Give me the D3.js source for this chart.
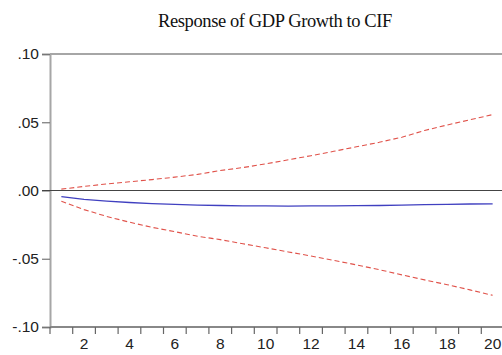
<!DOCTYPE html>
<html>
<head>
<meta charset="utf-8">
<script src="https://cdn.jsdelivr.net/npm/d3@7"></script>
<style>
  html, body { margin: 0; padding: 0; background: #fff; }
  svg { display: block; }
</style>
</head>
<body>
<svg id="chart" width="502" height="355"></svg>
<script>
// Impulse response of GDP growth to a CIF shock, with ±2 S.E. bands
const periods = d3.range(1, 21);
const response = [-0.0045, -0.0065, -0.0078, -0.0088, -0.0096, -0.0102, -0.0107, -0.0110, -0.0112, -0.0113,
                  -0.0114, -0.0113, -0.0112, -0.0111, -0.0110, -0.0107, -0.0104, -0.0101, -0.0099, -0.0098];
const upperBand = [0.0010, 0.0030, 0.0048, 0.0064, 0.0080, 0.0098, 0.0118, 0.0146, 0.0168, 0.0195,
                   0.0225, 0.0255, 0.0287, 0.0320, 0.0353, 0.0390, 0.0440, 0.0480, 0.0518, 0.0556];
const lowerBand = [-0.0078, -0.0140, -0.0190, -0.0232, -0.0270, -0.0302, -0.0335, -0.0360, -0.0390, -0.0420,
                   -0.0450, -0.0480, -0.0512, -0.0545, -0.0580, -0.0618, -0.0655, -0.0690, -0.0728, -0.0768];
const yTicks = [0.10, 0.05, 0.00, -0.05, -0.10];
const xLabels = [2, 4, 6, 8, 10, 12, 14, 16, 18, 20];
const title = "Response of GDP Growth to CIF";

const svg = d3.select("#chart");
const plot = { left: 50, right: 504, top: 54, bottom: 327 };

const x = d3.scaleLinear().domain([0.5, 20.5]).range([plot.left, plot.right]);
const y = d3.scaleLinear().domain([-0.10, 0.10]).range([plot.bottom, plot.top]);

// EViews-style labels: no leading zero, plain hyphen for negatives
const fmt = v => {
  if (Math.abs(v) < 1e-9) return ".00";
  return d3.format(".2f")(v).replace("\u2212", "-").replace("0.", ".");
};

// title
svg.append("text")
  .attr("x", 275).attr("y", 27)
  .attr("text-anchor", "middle")
  .attr("font-family", "Liberation Serif, Times New Roman, serif")
  .attr("font-size", 18.5)
  .attr("letter-spacing", -0.4)
  .attr("fill", "#111")
  .text(title);

// top frame line
svg.append("line")
  .attr("x1", plot.left).attr("x2", 502)
  .attr("y1", y(0.10)).attr("y2", y(0.10))
  .attr("stroke", "#a6a6a6").attr("stroke-width", 2);

// left axis
const yAxis = d3.axisLeft(y).tickValues(yTicks).tickFormat(fmt).tickSize(8).tickPadding(3);
const gy = svg.append("g").attr("transform", `translate(${plot.left},0)`).call(yAxis);
gy.select(".domain").attr("stroke", "#a6a6a6").attr("stroke-width", 2);
gy.selectAll(".tick line").attr("stroke", "#777").attr("stroke-width", 1.2);
gy.selectAll(".tick text")
  .attr("font-family", "Liberation Sans, Arial, sans-serif")
  .attr("font-size", 15.5).attr("fill", "#222");

// bottom axis: ticks at period boundaries, labels on even periods
const gx = svg.append("g").attr("transform", `translate(0,${plot.bottom})`);
gx.append("line")
  .attr("x1", plot.left).attr("x2", 502).attr("y1", 0).attr("y2", 0)
  .attr("stroke", "#888").attr("stroke-width", 2);
gx.selectAll("line.tk")
  .data(d3.range(0.5, 20.5, 1))
  .join("line").attr("class", "tk")
  .attr("x1", d => x(d)).attr("x2", d => x(d))
  .attr("y1", 0).attr("y2", 7)
  .attr("stroke", "#666").attr("stroke-width", 1.2);
gx.selectAll("text")
  .data(xLabels)
  .join("text")
  .attr("x", d => x(d)).attr("y", 22)
  .attr("text-anchor", "middle")
  .attr("font-family", "Liberation Sans, Arial, sans-serif")
  .attr("font-size", 15.5).attr("fill", "#222")
  .text(d => d);

// zero reference line
svg.append("line")
  .attr("x1", plot.left - 8).attr("x2", 502)
  .attr("y1", y(0)).attr("y2", y(0))
  .attr("stroke", "#444").attr("stroke-width", 1.2);

const line = d3.line().x((d, i) => x(periods[i])).y(d => y(d));

svg.append("path").datum(upperBand)
  .attr("d", line).attr("fill", "none")
  .attr("stroke", "#e0524a").attr("stroke-width", 1.1)
  .attr("stroke-dasharray", "5,3");
svg.append("path").datum(lowerBand)
  .attr("d", line).attr("fill", "none")
  .attr("stroke", "#e0524a").attr("stroke-width", 1.1)
  .attr("stroke-dasharray", "5,3");
svg.append("path").datum(response)
  .attr("d", line).attr("fill", "none")
  .attr("stroke", "#4040c0").attr("stroke-width", 1.3);
</script>
</body>
</html>
